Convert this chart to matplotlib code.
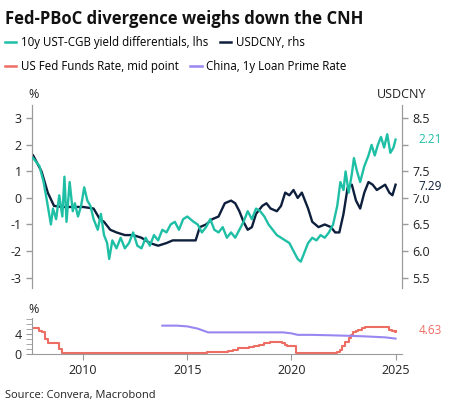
import matplotlib.pyplot as plt
from matplotlib.lines import Line2D
from matplotlib.ticker import MultipleLocator

plt.rcParams['font.family'] = ['Open Sans', 'DejaVu Sans']

spread_t = [2007.6,2007.9,2008.1,2008.3,2008.45,2008.55,2008.7,2008.85,2009.0,2009.1,2009.2,2009.35,2009.5,2009.6,2009.75,2009.9,2010.05,2010.2,2010.35,2010.5,2010.7,2010.85,2011.0,2011.15,2011.25,2011.4,2011.6,2011.8,2012.0,2012.2,2012.4,2012.6,2012.8,2013.0,2013.2,2013.4,2013.6,2013.8,2014.0,2014.2,2014.4,2014.6,2014.8,2015.0,2015.3,2015.5,2015.7,2015.9,2016.1,2016.3,2016.5,2016.7,2016.9,2017.1,2017.3,2017.5,2017.7,2017.9,2018.1,2018.3,2018.5,2018.7,2018.9,2019.1,2019.3,2019.5,2019.7,2019.9,2020.1,2020.3,2020.45,2020.6,2020.8,2021.0,2021.2,2021.4,2021.6,2021.8,2022.0,2022.2,2022.35,2022.5,2022.6,2022.75,2022.9,2023.0,2023.15,2023.3,2023.5,2023.7,2023.85,2024.0,2024.15,2024.3,2024.45,2024.6,2024.75,2024.9,2025.0]
spread_v = [1.5,1.2,0.6,-0.3,-1.0,-0.4,-0.8,0.1,-0.7,0.8,-0.9,0.6,-0.5,-0.2,-0.7,-0.3,0.4,-0.1,-0.3,-0.8,-1.2,-0.6,-1.4,-1.7,-2.3,-1.6,-1.9,-1.5,-1.9,-1.7,-1.3,-1.8,-1.9,-1.5,-1.8,-1.4,-1.6,-1.2,-1.3,-1.0,-0.9,-1.2,-0.8,-0.7,-0.9,-1.0,-1.3,-1.1,-0.8,-1.2,-1.3,-1.1,-1.5,-1.3,-1.5,-1.2,-0.9,-0.5,-0.8,-0.4,-0.5,-0.7,-1.0,-1.2,-1.4,-1.5,-1.6,-1.7,-2.0,-2.3,-2.4,-2.1,-1.7,-1.5,-1.6,-1.4,-1.5,-1.3,-1.0,-0.3,0.6,0.3,1.0,0.2,0.9,1.5,1.0,0.6,1.2,1.6,2.0,1.6,2.0,2.3,1.9,2.4,1.7,1.9,2.2]

cny_t = [2007.6,2008.0,2008.3,2008.6,2009.0,2009.5,2010.0,2010.5,2010.8,2011.0,2011.3,2011.6,2012.0,2012.4,2012.8,2013.2,2013.6,2014.0,2014.3,2014.6,2015.0,2015.4,2015.6,2015.9,2016.2,2016.5,2016.8,2017.1,2017.3,2017.5,2017.7,2017.9,2018.1,2018.3,2018.6,2018.8,2019.0,2019.3,2019.5,2019.7,2019.9,2020.1,2020.3,2020.5,2020.8,2021.0,2021.3,2021.6,2021.9,2022.1,2022.3,2022.5,2022.7,2022.9,2023.1,2023.3,2023.5,2023.7,2023.9,2024.1,2024.3,2024.5,2024.7,2024.85,2025.0]
cny_v = [7.8,7.5,7.1,6.85,6.83,6.83,6.83,6.8,6.6,6.55,6.4,6.35,6.3,6.3,6.25,6.15,6.1,6.15,6.2,6.2,6.2,6.2,6.45,6.5,6.6,6.65,6.9,6.95,6.9,6.75,6.55,6.4,6.45,6.7,6.85,6.9,6.8,6.75,6.85,7.1,7.05,7.15,7.0,7.1,6.8,6.55,6.45,6.5,6.45,6.35,6.35,6.7,7.2,7.25,6.95,6.8,7.1,7.3,7.25,7.15,7.2,7.25,7.1,7.05,7.25]

fed_t = [2007.6,2007.75,2007.9,2008.0,2008.15,2008.3,2008.85,2009.0,2015.95,2016.95,2017.2,2017.45,2017.95,2018.2,2018.45,2018.7,2018.95,2019.55,2019.7,2019.8,2020.2,2022.2,2022.35,2022.45,2022.55,2022.75,2022.85,2022.95,2023.1,2023.2,2023.4,2023.55,2024.7,2024.85,2024.95,2025.0]
fed_v = [5.13,5.13,4.63,4.38,3.0,2.13,1.0,0.13,0.38,0.63,0.88,1.13,1.38,1.63,1.88,2.13,2.38,2.13,1.88,1.63,0.13,0.38,0.88,1.63,2.38,3.13,3.88,4.38,4.63,4.88,5.13,5.38,4.88,4.63,4.38,4.63]

lpr_t = [2013.8,2014.5,2015.0,2015.5,2016.0,2017.0,2018.0,2019.0,2019.6,2020.0,2020.3,2021.0,2022.0,2022.8,2023.5,2024.0,2024.5,2025.0]
lpr_v = [5.7,5.7,5.55,5.1,4.35,4.35,4.35,4.35,4.35,4.15,3.85,3.85,3.75,3.65,3.55,3.45,3.35,3.1]

teal = '#1fbfa6'; navy = '#0d1f3c'; red = '#ee6d63'; purple = '#9a86f0'; gray = '#9a9a9a'

fig = plt.figure(figsize=(4.53, 4.17), dpi=100)
fig.text(0.012, 0.975, 'Fed-PBoC divergence weighs down the CNH', fontsize=12, fontweight='bold', va='top', color='#111111')

h = [Line2D([], [], color=c, lw=1.8) for c in (teal, navy, red, purple)]
fig.legend(h[:2], ['10y UST-CGB yield differentials, lhs', 'USDCNY, rhs'], loc='upper left', bbox_to_anchor=(0.0, 0.925),
           ncol=2, frameon=False, fontsize=8.3, handlelength=1.0, handletextpad=0.4, columnspacing=1.0, borderaxespad=0)
fig.legend(h[2:], ['US Fed Funds Rate, mid point', 'China, 1y Loan Prime Rate'], loc='upper left', bbox_to_anchor=(0.0, 0.868),
           ncol=2, frameon=False, fontsize=8.3, handlelength=1.0, handletextpad=0.4, columnspacing=1.0, borderaxespad=0)

xl = (2007.55, 2025.3)
ax = fig.add_axes([0.071, 0.309, 0.816, 0.439])
ax2 = ax.twinx()
ax.plot(spread_t, spread_v, color=teal, lw=1.7, zorder=3)
ax2.plot(cny_t, cny_v, color=navy, lw=1.7, zorder=2)
ax.set_zorder(ax2.get_zorder() + 1); ax.patch.set_visible(False)
ax.set_xlim(*xl)
ax.set_ylim(-3.4, 3.5)
ax2.set_ylim(7 - 1.7, 7 + 1.75)
ax.set_yticks([-3, -2, -1, 0, 1, 2, 3])
ax.set_yticklabels(['-3', '-2', '-1', '0', '1', '2', '3'])
ax2.set_yticks([5.5, 6.0, 6.5, 7.0, 7.5, 8.0, 8.5])
ax2.set_yticklabels(['5.5', '6.0', '6.5', '7.0', '7.5', '', '8.5'])
ax.set_xticks([])
for a in (ax, ax2):
    for s in ('top', 'bottom'):
        a.spines[s].set_visible(False)
    a.spines['left'].set_color(gray); a.spines['right'].set_color(gray)
    a.tick_params(axis='y', colors=gray, labelcolor='#222222', labelsize=9, length=4, width=1)
ax.text(-0.01, 1.02, '%', transform=ax.transAxes, fontsize=9, va='bottom', color='#222222')
ax2.text(1.0, 1.02, 'USDCNY', transform=ax.transAxes, fontsize=9, va='bottom', ha='center', color='#222222')
bb = dict(facecolor='white', edgecolor='none', pad=1)
ax.text(1.045, 2.21 / 6.9 + 3.4 / 6.9, '2.21', transform=ax.transAxes, color=teal, fontsize=8.5, va='center', bbox=bb, zorder=10)
ax2.text(1.045, (7.21 - 5.3) / 3.45, '7.29', transform=ax.transAxes, color=navy, fontsize=8.5, va='center', bbox=bb, zorder=10)

bx = fig.add_axes([0.071, 0.151, 0.816, 0.086])
bx.step(fed_t, fed_v, where='post', color=red, lw=1.5)
bx.plot(lpr_t, lpr_v, color=purple, lw=1.5)
bx.set_xlim(*xl)
bx.set_ylim(0, 7.2)
bx.set_yticks([0, 4])
bx.yaxis.set_minor_locator(MultipleLocator(1))
bx.set_xticks([2010, 2015, 2020, 2025])
for s in ('top', 'right'):
    bx.spines[s].set_visible(False)
bx.spines['left'].set_color(gray); bx.spines['bottom'].set_color(gray)
bx.tick_params(axis='y', which='both', colors=gray, labelcolor='#222222', labelsize=9, length=4)
bx.tick_params(axis='x', colors=gray, labelcolor='#222222', labelsize=9, length=4)
bx.text(-0.01, 1.05, '%', transform=bx.transAxes, fontsize=9, va='bottom', color='#222222')
bx.text(1.045, 4.63 / 7.2, '4.63', transform=bx.transAxes, color=red, fontsize=8.5, va='center')

fig.text(0.012, 0.045, 'Source: Convera, Macrobond', fontsize=8, color='#222222')
fig.savefig('out.png', dpi=100)
